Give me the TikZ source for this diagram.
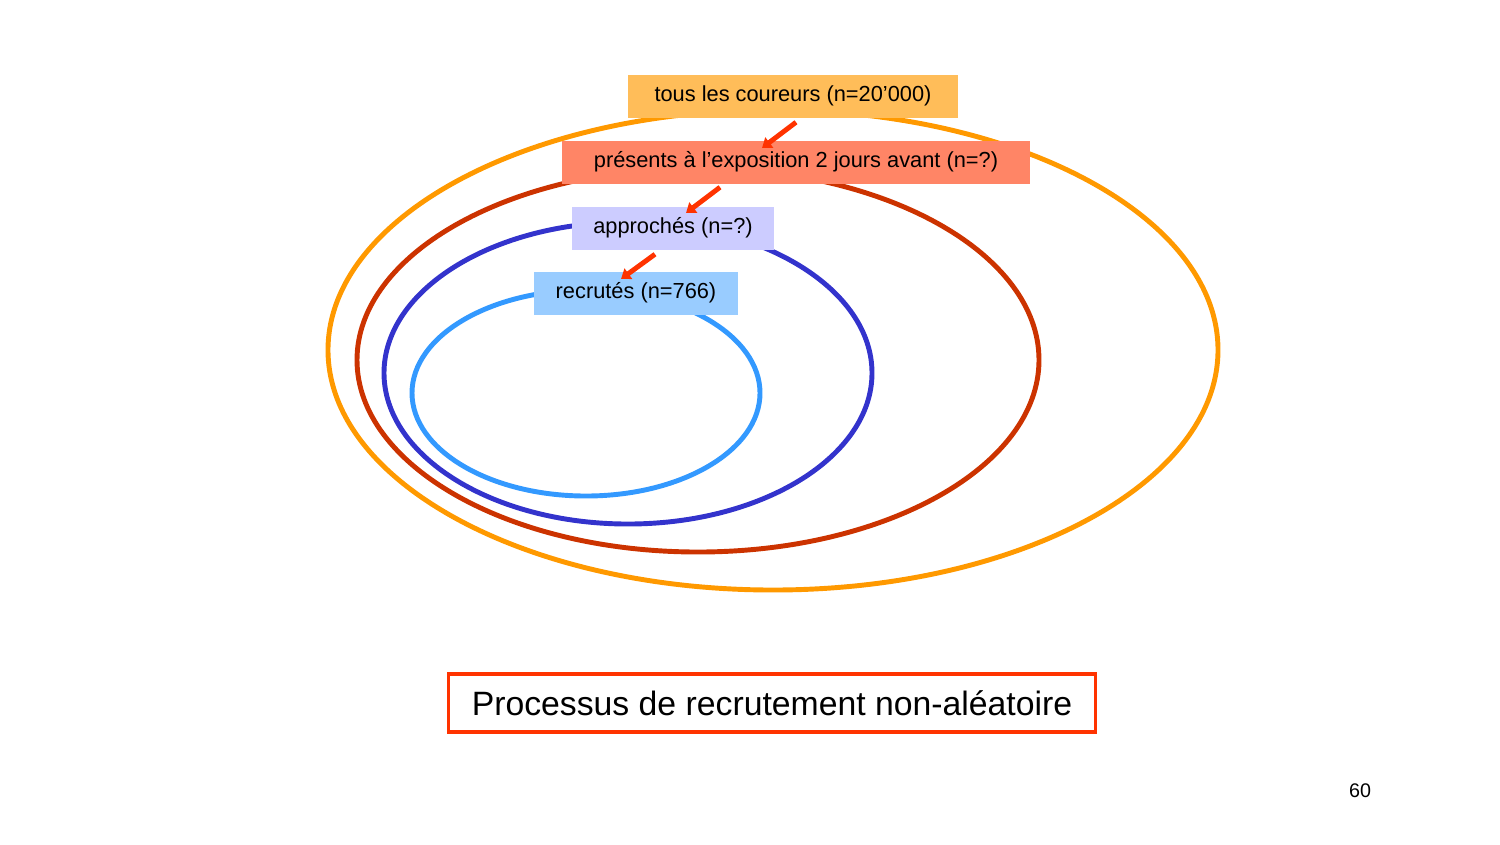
\documentclass[tikz,border=0pt]{standalone}
\usepackage{fontspec}
\setmainfont{Liberation Sans}
\usetikzlibrary{arrows.meta, positioning}
\definecolor{ringA}{HTML}{FF9900}
\definecolor{ringB}{HTML}{CC3300}
\definecolor{ringC}{HTML}{3333CC}
\definecolor{ringD}{HTML}{3399FF}
\definecolor{arr}{HTML}{FF3300}
\begin{document}
\begin{tikzpicture}[
        x=0.01cm, y=-0.01cm,
        ring/.style={line width=1.4pt},
        tag/.style={rectangle, inner sep=0pt, minimum height=0.43cm, font=\fontsize{6.2}{7}\selectfont},
        arrow/.style={-{Triangle[length=2.6pt,width=3.6pt]}, arr, line width=1.4pt}
    ]
    \useasboundingbox (0,0) rectangle (1500,844);
    % nested sets
    \draw[ring, ringA] (773,350) ellipse [x radius=445, y radius=240];
    \draw[ring, ringB] (698,360) ellipse [x radius=341, y radius=192];
    \draw[ring, ringC] (628,373) ellipse [x radius=244, y radius=151];
    \draw[ring, ringD] (586,393) ellipse [x radius=174, y radius=103];
    % labels
    \node (all) [tag, fill=ringA!65, minimum width=3.3cm] at (793,96) {tous les coureurs (n=20’000)};
    \node (present) [tag, fill=arr!60, minimum width=4.68cm] at (796,162) {présents à l’exposition 2 jours avant (n=?)};
    \node (approached) [tag, fill=blue!20, minimum width=2.02cm] at (673,228) {approchés (n=?)};
    \node (recruited) [tag, fill=ringD!50, minimum width=2.04cm] at (636,293) {recrutés (n=766)};
    \coordinate (a1) at (762,148);
    \coordinate (a2) at (686,213);
    \coordinate (a3) at (621,279);
    \draw[arrow] (all.south) ++(3,4) -- (a1);
    \draw[arrow] (present.south) ++(-76,3) -- (a2);
    \draw[arrow] (approached.south) ++(-18,4) -- (a3);
    % caption
    \node (title) [draw=arr, line width=1pt, inner sep=0pt, minimum width=6.47cm, minimum height=0.58cm, font=\fontsize{9.6}{11}\selectfont] at (772,703) {Processus de recrutement non-aléatoire};
    \node (page) [font=\fontsize{5.6}{7}\selectfont] at (1360,791) {60};
\end{tikzpicture}
\end{document}
